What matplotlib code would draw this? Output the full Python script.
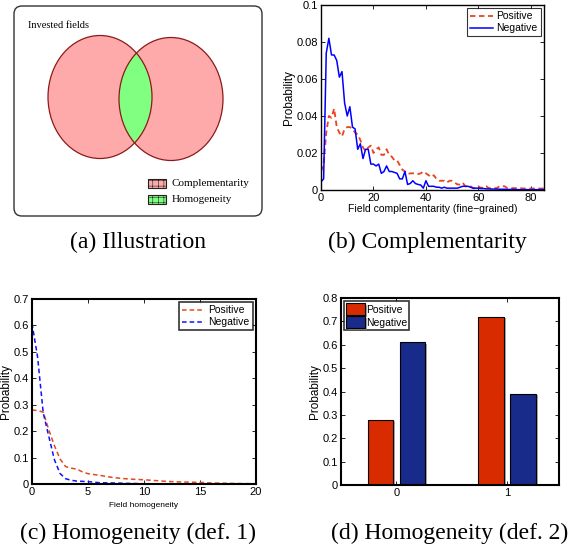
import matplotlib
matplotlib.use('Agg')
import matplotlib.pyplot as plt
import matplotlib.patheffects as pe
from matplotlib.patches import Ellipse, FancyBboxPatch, Rectangle
import numpy as np

plt.rcParams['font.family'] = ['Liberation Sans', 'DejaVu Sans']
plt.rcParams['hatch.linewidth'] = 0.4

# ── data ─────────────────────────────────────────────────────────────────── #
# (b) field complementarity, x = 0..85
comp_x = np.arange(0, 86)
comp_pos = [0.010, 0.014, 0.031, 0.040, 0.039, 0.044, 0.034, 0.031, 0.029, 0.033,
            0.034, 0.034, 0.033, 0.031, 0.030, 0.027, 0.023, 0.021, 0.023, 0.024,
            0.020, 0.022, 0.023, 0.019, 0.019, 0.022, 0.019, 0.018, 0.016, 0.016,
            0.0135, 0.011, 0.010, 0.0086, 0.009, 0.009, 0.009, 0.0086, 0.009, 0.010,
            0.009, 0.008, 0.007, 0.008, 0.006, 0.005, 0.005, 0.005, 0.004, 0.005,
            0.005, 0.004, 0.003, 0.003, 0.004, 0.002, 0.002, 0.002, 0.001, 0.001,
            0.002, 0.001, 0.002, 0.002, 0.001, 0.001, 0.001, 0.001, 0.002, 0.002,
            0.002, 0.001, 0.001, 0.001, 0.001, 0.001, 0.001, 0.0008, 0.0008, 0.0008,
            0.0008, 0.0008, 0.0008, 0.0008, 0.0008, 0.0008]
comp_neg = [0.0045, 0.006, 0.074, 0.082, 0.073, 0.073, 0.070, 0.061, 0.064, 0.047,
            0.040, 0.045, 0.034, 0.033, 0.022, 0.025, 0.017, 0.022, 0.022, 0.014,
            0.014, 0.013, 0.014, 0.009, 0.010, 0.013, 0.010, 0.010, 0.0095, 0.009,
            0.006, 0.006, 0.010, 0.003, 0.0035, 0.005, 0.0035, 0.003, 0.0027, 0.001,
            0.005, 0.002, 0.002, 0.002, 0.0015, 0.0015, 0.001, 0.0015, 0.001, 0.001,
            0.001, 0.001, 0.001, 0.0015, 0.002, 0.002, 0.002, 0.0015, 0.001, 0.001,
            0.001, 0.0008, 0.0008, 0.0006, 0.0006, 0.0005, 0.0005, 0.0005, 0.0004, 0.0004,
            0.0004, 0.0003, 0.0003, 0.0003, 0.0003, 0.0002, 0.0002, 0.0002, 0.0002, 0.0002,
            0.0002, 0.0002, 0.0002, 0.0002, 0.0002, 0.0002]

# (c) field homogeneity (def. 1)
homo_x = [0, 0.5, 1, 1.5, 2, 2.5, 3, 3.5, 4, 4.5, 5, 6, 7, 8, 9, 10,
          11, 12, 13, 14, 15, 16, 17, 18, 19, 20]
homo_pos = [0.280, 0.278, 0.272, 0.205, 0.145, 0.095, 0.066, 0.060, 0.056, 0.046, 0.039,
            0.033, 0.026, 0.021, 0.018, 0.016, 0.013, 0.010, 0.008, 0.007, 0.006,
            0.004, 0.003, 0.002, 0.0015, 0.001]
homo_neg = [0.608, 0.480, 0.270, 0.180, 0.092, 0.040, 0.020, 0.014, 0.011, 0.010, 0.009,
            0.005, 0.004, 0.003, 0.002, 0.001, 0.0008, 0.0006, 0.0005, 0.0004, 0.0003,
            0.0002, 0.0002, 0.0001, 0.0001, 0.0001]

# (d) field homogeneity (def. 2)
def2_groups = [0, 1]
def2_pos = [0.28, 0.72]
def2_neg = [0.61, 0.39]

W, H = 568, 551
def rect(l, t, r, b):
    return [l / W, 1 - b / H, (r - l) / W, (b - t) / H]

def style_axes(ax, lw=1.0):
    ax.tick_params(direction='in', top=True, right=True, labelsize=8,
                   length=3, width=0.6, pad=2)
    for s in ax.spines.values():
        s.set_linewidth(lw)

def set_ylab(ax):
    ax.set_ylabel('Probability', fontsize=8.5, labelpad=1)

def make_legend(ax, loc, lw, **kw):
    lg = ax.legend(loc=loc, fontsize=7.5, frameon=True, fancybox=False,
                   borderaxespad=0.3, **kw)
    lg.get_frame().set_edgecolor('black')
    lg.get_frame().set_linewidth(lw)
    return lg

fig = plt.figure(figsize=(W / 100, H / 100), dpi=100)
fig.patch.set_facecolor('white')

# ── (b) Complementarity ──────────────────────────────────────────────────── #
axb = fig.add_axes(rect(321, 5, 544, 190))
axb.plot(comp_x, comp_pos, '--', color='#E8441E', lw=1.3, label='Positive', dashes=(3, 2))
axb.plot(comp_x, comp_neg, '-', color='#0000FF', lw=1.1, label='Negative')
axb.set_xlim(0, 85)
axb.set_ylim(0, 0.1)
axb.set_xticks([0, 20, 40, 60, 80])
axb.set_yticks([0, 0.02, 0.04, 0.06, 0.08, 0.1])
axb.set_yticklabels(['0', '0.02', '0.04', '0.06', '0.08', '0.1'])
set_ylab(axb)
axb.set_xlabel('Field complementarity (fine\u2212grained)', fontsize=7.5, labelpad=1)
style_axes(axb, 1.0)
make_legend(axb, 'upper right', 0.8, handlelength=2.2, labelspacing=0.2,
            borderpad=0.3, handletextpad=0.3)

# ── (c) Homogeneity (def. 1) ─────────────────────────────────────────────── #
axc = fig.add_axes(rect(32, 299, 256, 484))
axc.plot(homo_x, homo_pos, '--', color='#E04A20', lw=1.1, label='Positive', dashes=(3, 2))
axc.plot(homo_x, homo_neg, '--', color='#1010FF', lw=1.1, label='Negative', dashes=(3, 2))
axc.set_xlim(0, 20)
axc.set_ylim(0, 0.7)
axc.set_xticks([0, 5, 10, 15, 20])
axc.set_yticks(np.arange(0, 0.71, 0.1))
axc.set_yticklabels(['0', '0.1', '0.2', '0.3', '0.4', '0.5', '0.6', '0.7'])
set_ylab(axc)
axc.set_xlabel('Field homogeneity', fontsize=6, labelpad=4)
style_axes(axc, 1.5)
make_legend(axc, 'upper right', 1.2, handlelength=2.2, labelspacing=0.2,
            borderpad=0.3, handletextpad=0.3)

# ── (d) Homogeneity (def. 2) ─────────────────────────────────────────────── #
axd = fig.add_axes(rect(341, 298, 559, 485))
x = np.array(def2_groups)
bw = 0.23
shadow = [pe.SimplePatchShadow(offset=(1.5, -1), shadow_rgbFace='#888888', alpha=0.7),
          pe.Normal()]
axd.bar(x - 0.145, def2_pos, width=bw, color='#D92B00', edgecolor='black',
        lw=0.8, label='Positive', path_effects=shadow)
axd.bar(x + 0.145, def2_neg, width=bw, color='#182A8A', edgecolor='black',
        lw=0.8, label='Negative', path_effects=shadow)
axd.set_xlim(-0.5, 1.47)
axd.set_ylim(0, 0.8)
axd.set_xticks(def2_groups)
axd.set_yticks(np.arange(0, 0.81, 0.1))
axd.set_yticklabels(['0', '0.1', '0.2', '0.3', '0.4', '0.5', '0.6', '0.7', '0.8'])
set_ylab(axd)
style_axes(axd, 1.5)
make_legend(axd, 'upper left', 1.2, handlelength=1.8, handleheight=1.4,
            labelspacing=0.1, borderpad=0.2, handletextpad=0.1)

# ── (a) Illustration + captions, drawn in pixel space ───────────────────── #
ov = fig.add_axes([0, 0, 1, 1])
ov.set_xlim(0, W)
ov.set_ylim(H, 0)
ov.axis('off')

ov.add_patch(FancyBboxPatch((14, 6), 248, 210, boxstyle='round,pad=0,rounding_size=8',
                            facecolor='white', edgecolor='#333333', lw=1.0))
ov.text(28, 25, 'Invested fields', family='Liberation Serif', fontsize=7.5,
        va='center', ha='left')

pink, dark = '#FFAAAA', '#8B1A1A'
left = Ellipse((100, 97), 104, 123, facecolor=pink, edgecolor='none')
right = Ellipse((171, 99), 104, 123, facecolor=pink, edgecolor='none')
ov.add_patch(left)
ov.add_patch(right)
lens = Ellipse((171, 99), 104, 123, facecolor='#80FF80', edgecolor='none')
ov.add_patch(lens)
lens.set_clip_path(left)
for cx, cy in [(100, 97), (171, 99)]:
    ov.add_patch(Ellipse((cx, cy), 104, 123, facecolor='none', edgecolor=dark, lw=0.9))

ov.add_patch(Rectangle((148, 179), 18, 9, facecolor=pink, edgecolor='#222222',
                       lw=0.8, hatch='+++'))
ov.add_patch(Rectangle((148, 195), 18, 9, facecolor='#80FF80', edgecolor='#222222',
                       lw=0.8, hatch='+++'))
ov.text(172, 183.5, 'Complementarity', family='Liberation Serif', fontsize=8, va='center')
ov.text(172, 199.5, 'Homogeneity', family='Liberation Serif', fontsize=8, va='center')

cap = dict(family='Liberation Serif', fontsize=17, ha='center', va='center')
ov.text(138, 242, '(a) Illustration', **cap)
ov.text(427, 242, '(b) Complementarity', **cap)
ov.text(138, 533, '(c) Homogeneity (def. 1)', **cap)
ov.text(450, 533, '(d) Homogeneity (def. 2)', **cap)

fig.savefig('out.png', dpi=100, facecolor='white')
